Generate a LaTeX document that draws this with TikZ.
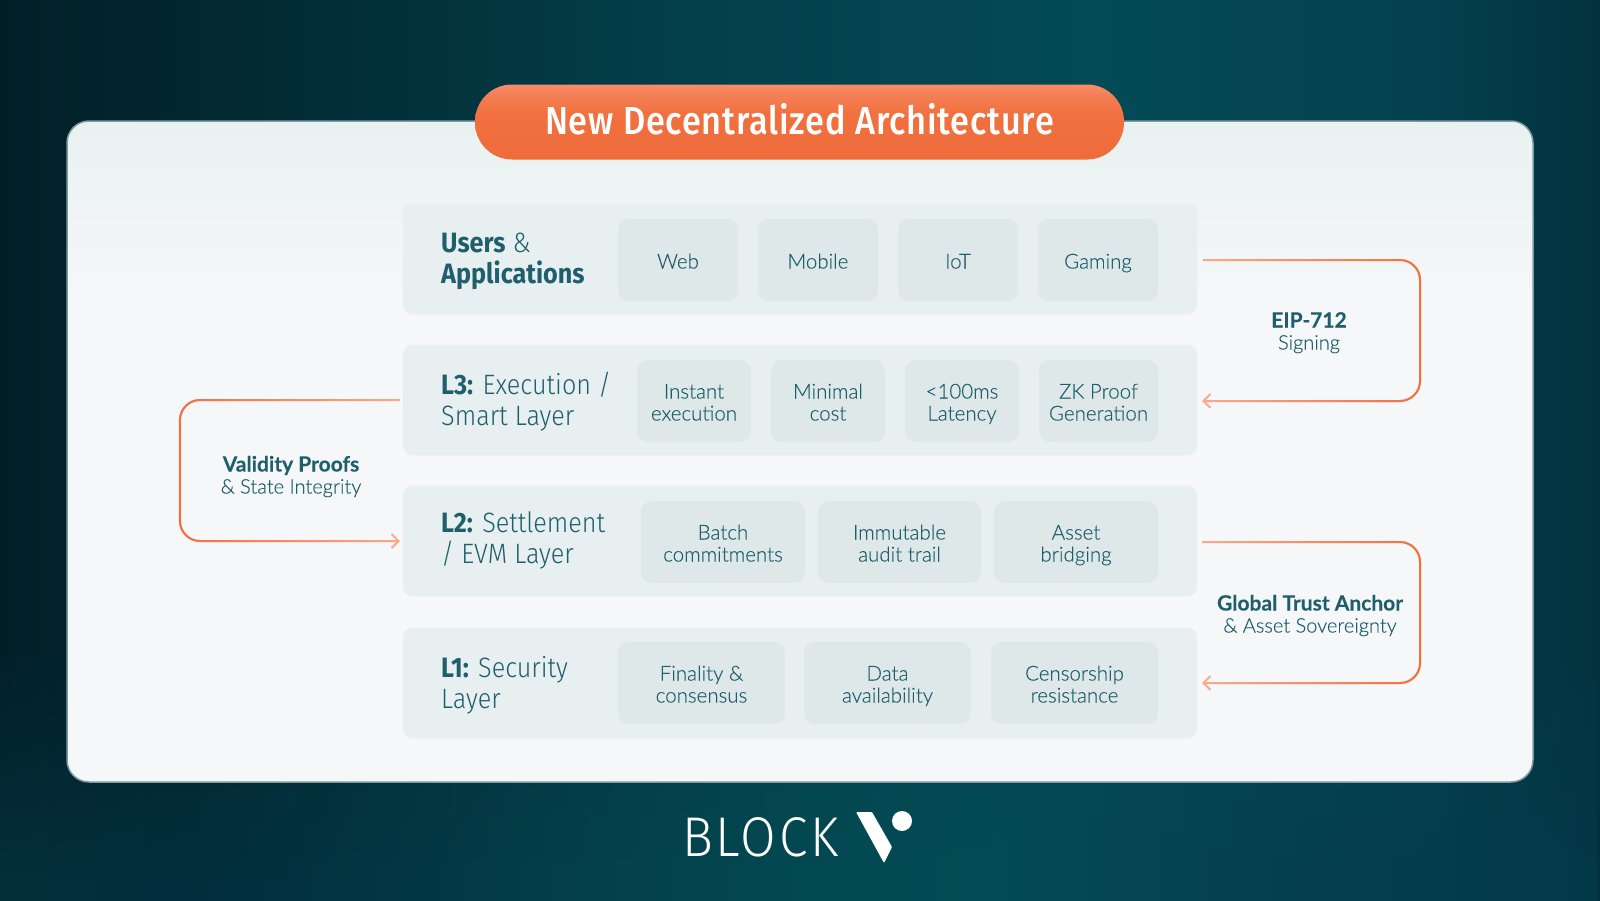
\documentclass[tikz,border=0pt]{standalone}
\usepackage{fontspec}
\usetikzlibrary{arrows.meta,fadings}
\setmainfont{Lato Light}[BoldFont=Lato Bold,FakeBold=0.12]
\newfontfamily\hdfont[FakeStretch=0.90]{Fira Sans}[BoldFont=Fira Sans Bold]
\newfontfamily\hdlight[FakeStretch=0.90]{Fira Sans Light}
\newfontfamily\titlefont[FakeStretch=0.88,LetterSpace=2]{Fira Sans Medium}
\newfontfamily\logofont[FakeStretch=0.92,LetterSpace=5]{Fira Sans Light}
\lineskiplimit=-100pt
\newcommand{\cs}{\rule[-5pt]{0pt}{27pt}}
\newcommand{\ls}{\rule[-8pt]{0pt}{22pt}}
\newcommand{\bd}[1]{{\fontsize{21}{22}\selectfont\bfseries\color{teal1}#1}}
\definecolor{teal1}{HTML}{1F5F6B}
\definecolor{teal2}{HTML}{1F5F6B}
\definecolor{org}{HTML}{F2703F}
\definecolor{orgl}{HTML}{FBA98D}
\definecolor{TopA}{HTML}{021F28}
\definecolor{TopB}{HTML}{02272F}
\definecolor{TopC}{HTML}{03404B}
\definecolor{TopD}{HTML}{044A57}
\definecolor{TopE}{HTML}{044250}
\definecolor{TopF}{HTML}{03323E}
\definecolor{BotA}{HTML}{04303C}
\definecolor{BotB}{HTML}{032E3D}
\definecolor{BotC}{HTML}{044A52}
\definecolor{BotD}{HTML}{044C56}
\definecolor{BotE}{HTML}{043E4C}
\definecolor{BotF}{HTML}{04394A}
\definecolor{cardfill}{HTML}{DEE8E9}
\definecolor{rowfill}{HTML}{E8EFF0}
\definecolor{panedge}{HTML}{7D9AA2}
\definecolor{OrgB}{HTML}{EE6C3C}
\definecolor{OrgM}{HTML}{F1703E}
\definecolor{OrgTm}{HTML}{F47F55}
\definecolor{OrgT}{HTML}{F98D68}
\definecolor{PanB}{HTML}{F5F7F8}
\definecolor{PanT}{HTML}{E9F1F1}
\pgfdeclarehorizontalshading{bgtop}{100bp}{
 color(0bp)=(TopA);
 color(25bp)=(TopA);
 color(31bp)=(TopB);
 color(47bp)=(TopC);
 color(59bp)=(TopD);
 color(69bp)=(TopE);
 color(75bp)=(TopF);
 color(100bp)=(TopF)}
\pgfdeclarehorizontalshading{bgbot}{100bp}{
 color(0bp)=(BotA);
 color(25bp)=(BotA);
 color(31bp)=(BotB);
 color(50bp)=(BotC);
 color(56bp)=(BotD);
 color(66bp)=(BotE);
 color(75bp)=(BotF);
 color(100bp)=(BotF)}
\pgfdeclareverticalshading{pillshade}{100bp}{
 color(0bp)=(OrgB);
 color(25bp)=(OrgB);
 color(55bp)=(OrgM);
 color(68bp)=(OrgTm);
 color(75bp)=(OrgT);
 color(100bp)=(OrgT)}
\pgfdeclareverticalshading{panelshade}{100bp}{
 color(0bp)=(PanB);
 color(25bp)=(PanB);
 color(62bp)=(PanB);
 color(75bp)=(PanT);
 color(100bp)=(PanT)}
\tikzfading[name=toleft,left color=transparent!0,right color=transparent!100]
\tikzfading[name=toright,left color=transparent!100,right color=transparent!0]
\tikzset{
 x=1pt,y=-1pt,
 rowbox/.style={rectangle,rounded corners=10,fill=rowfill,minimum height=111,minimum width=794,inner sep=0,outer sep=0},
 card/.style={rectangle,rounded corners=11,fill=cardfill,inner sep=0,outer sep=0,minimum height=82,text=teal2,align=center,font=\fontsize{20.5}{22}\selectfont},
 rowlabel/.style={anchor=west,align=left,text=teal1,inner sep=0,font=\hdlight\fontsize{28}{31}\selectfont},
 anno/.style={align=center,text=teal2,inner sep=0,font=\fontsize{20}{22}\selectfont},
 conn/.style={draw=orgl,line width=2,rounded corners=20},
 connfade/.style={draw=org,line width=2,rounded corners=20,path fading=#1},
 tip/.style={-{Straight Barb[length=7,width=14,line width=2]}}
}
\begin{document}
\begin{tikzpicture}
\useasboundingbox (0,0) rectangle (1600,900);
% background
\path[shading=bgtop] (0,0) rectangle (1600,900);
\path[shading=bgbot,path fading=north] (0,640) rectangle (1600,900);
% panel
\node[rectangle,rounded corners=22,minimum width=1466,minimum height=661,inner sep=0,outer sep=0,draw=panedge,line width=1.5,shading=panelshade] (panel) at (800,451.5) {};
% pill
\node[rectangle,rounded corners=37,minimum width=649,minimum height=75,inner sep=0,outer sep=0,shading=pillshade,text=white,font=\titlefont\fontsize{39}{39}\selectfont] (title) at (799.5,122) {\raisebox{6pt}{New Decentralized Architecture}};
% rows
\node[rowbox] (r1) at (800,259) {};
\node[rowbox] (r2) at (800,400) {};
\node[rowbox] (r3) at (800,541) {};
\node[rowbox] (r4) at (800,683) {};
% labels
\node[rowlabel] (l1) at (441,262) {\ls{\hdfont\bfseries Users} \&\\\ls{\hdfont\bfseries Applications}};
\node[rowlabel] (l2) at (441,403) {\ls{\hdfont\bfseries L3:} Execution /\\\ls Smart Layer};
\node[rowlabel] (l3) at (441,542) {\ls{\hdfont\bfseries L2:} Settlement\\\ls / EVM Layer};
\node[rowlabel] (l4) at (441,686) {\ls{\hdfont\bfseries L1:} Security\\\ls Layer};
% cards
\node[card,minimum width=120] (c11) at (678,260) {\cs Web};
\node[card,minimum width=120] (c12) at (818,260) {\cs Mobile};
\node[card,minimum width=120] (c13) at (958,260) {\cs IoT};
\node[card,minimum width=120] (c14) at (1098,260) {\cs Gaming};
\node[card,minimum width=114] (c21) at (694,401) {\cs Instant\\\cs execution};
\node[card,minimum width=114] (c22) at (828,401) {\cs Minimal\\\cs cost};
\node[card,minimum width=114] (c23) at (962,401) {\cs <100ms\\\cs Latency};
\node[card,minimum width=119] (c24) at (1098.5,401) {\cs ZK Proof\\\cs Generation};
\node[card,minimum width=164] (c31) at (723,542) {\cs Batch\\\cs commitments};
\node[card,minimum width=163] (c32) at (899.5,542) {\cs Immutable\\\cs audit trail};
\node[card,minimum width=164] (c33) at (1076,542) {\cs Asset\\\cs bridging};
\node[card,minimum width=167] (c41) at (701.5,683) {\cs Finality \&\\\cs consensus};
\node[card,minimum width=167] (c42) at (887.5,683) {\cs Data\\\cs availability};
\node[card,minimum width=167] (c43) at (1074.5,683) {\cs Censorship\\\cs resistance};
% annotations
\node[anno] (a1) at (1309,330) {\cs\bd{EIP-712}\\\cs Signing};
\node[anno] (a2) at (291,474) {\cs\bd{Validity Proofs}\\\cs\&~State Integrity};
\node[anno] (a3) at (1310,613) {\cs\bd{Global Trust Anchor}\\\cs\&~Asset Sovereignty};
% connector anchors
\coordinate (p1s) at ([xshift=6,yshift=-1]r1.east);
\coordinate (p1e) at ([xshift=5,yshift=-1]r2.east);
\coordinate (p1a) at (1420,260);
\coordinate (p1b) at (1420,401);
\coordinate (p2s) at ([xshift=-3]r2.west);
\coordinate (p2e) at ([xshift=-3]r3.west);
\coordinate (p2a) at (180,400);
\coordinate (p2b) at (180,541);
\coordinate (p3s) at ([xshift=5,yshift=-1]r3.east);
\coordinate (p3e) at ([xshift=5]r4.east);
\coordinate (p3a) at (1420,542);
\coordinate (p3b) at (1420,683);
% connectors
\draw[conn,tip] (p1s) -- (p1a) -- (p1b) -- (p1e);
\path[connfade=toright] (p1s) -- (p1a) -- (p1b) -- (p1e);
\draw[conn,tip] (p2s) -- (p2a) -- (p2b) -- (p2e);
\path[connfade=toleft] (p2s) -- (p2a) -- (p2b) -- (p2e);
\draw[conn,tip] (p3s) -- (p3a) -- (p3b) -- (p3e);
\path[connfade=toright] (p3s) -- (p3a) -- (p3b) -- (p3e);
% logo
\node[anchor=base west,inner sep=0,text=white,font=\logofont\fontsize{56}{56}\selectfont] (logo) at (682,856) {BLOCK};
\fill[white,rounded corners=1] (856,812) -- (872,812) -- (892,847) -- (884,863) -- cycle;
\fill[white] (902,821) circle (10);
\end{tikzpicture}
\end{document}
